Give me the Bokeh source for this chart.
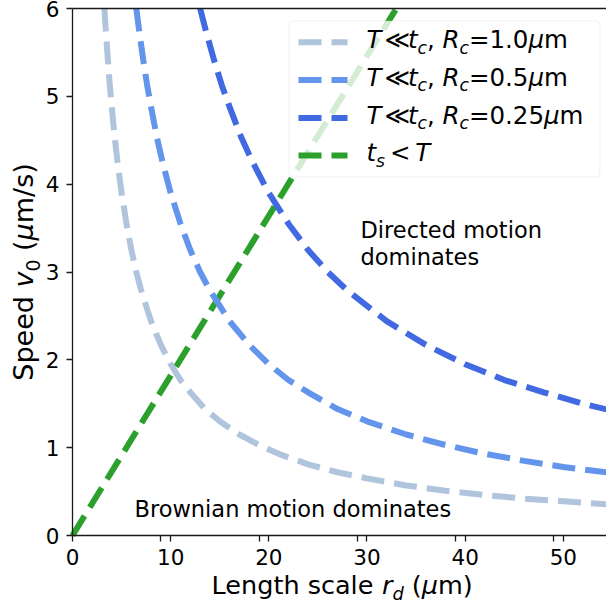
import math

from bokeh.embed import file_html
from bokeh.models import BoxAnnotation, FixedTicker, Label, LinearAxis, Range1d
from bokeh.plotting import figure
from bokeh.resources import INLINE

# ---- data -----------------------------------------------------------------
# crossover speed (um/s) against length scale (um), one curve per cell radius
r_rc10 = [3.25, 3.4, 3.6, 3.8, 4.0, 4.3, 4.6, 5.0, 5.5, 6.0, 6.5, 7, 8, 9, 10, 11, 12,
          13.5, 15, 17, 19, 21, 24, 27, 30, 34, 38, 42, 46, 50, 55]
v_rc10 = [6.00, 5.74, 5.42, 5.13, 4.88, 4.53, 4.24, 3.90, 3.55, 3.25, 3.00, 2.79, 2.44,
          2.17, 1.95, 1.77, 1.63, 1.44, 1.30, 1.15, 1.03, 0.93, 0.81, 0.72, 0.65, 0.57,
          0.51, 0.46, 0.42, 0.39, 0.35]

r_rc05 = [6.5, 6.8, 7.2, 7.6, 8, 8.6, 9.2, 10, 11, 12, 13, 14, 16, 18, 20, 22, 24, 27,
          30, 34, 38, 42, 46, 50, 55]
v_rc05 = [6.00, 5.74, 5.42, 5.13, 4.88, 4.53, 4.24, 3.90, 3.55, 3.25, 3.00, 2.79, 2.44,
          2.17, 1.95, 1.77, 1.63, 1.44, 1.30, 1.15, 1.03, 0.93, 0.85, 0.78, 0.71]

r_rc025 = [13.0, 13.6, 14.4, 15.2, 16, 17.2, 18.4, 20, 22, 24, 26, 28, 32, 36, 40, 44,
           48, 52, 55]
v_rc025 = [6.00, 5.74, 5.42, 5.13, 4.88, 4.53, 4.24, 3.90, 3.55, 3.25, 3.00, 2.79, 2.44,
           2.17, 1.95, 1.77, 1.63, 1.50, 1.42]

r_ts = [0, 10, 20, 30, 33.0]
v_ts = [0, 1.82, 3.64, 5.46, 6.00]

x_ticks = [0, 10, 20, 30, 40, 50]
x_minor_ticks = [9, 19, 29, 39, 49]
y_ticks = [0, 1, 2, 3, 4, 5, 6]

C_RC10 = "#b0c4de"   # lightsteelblue
C_RC05 = "#6495ed"   # cornflowerblue
C_RC025 = "#4169e1"  # royalblue
C_TS = "#2ca02c"

FONT = "DejaVu Sans"
INK = "#000000"
SPINE = "#1a1a1a"

# ---- geometry --------------------------------------------------------------
# The data box sits at canvas pixels x 72..606, y 8..535; the plot frame covers
# the whole canvas and the axes are pinned to x=0 / y=0 so that the axis titles
# can be set as mixed italic / subscript text inside the frame.
W, H = 606, 607
BOX_L, BOX_T, BOX_B = 72, 8, 535
X_MAX, Y_MAX = 54.4, 6.0
UX = X_MAX / (W - BOX_L)          # data units per pixel, x
UY = Y_MAX / (BOX_B - BOX_T)      # data units per pixel, y
X0, X1 = -BOX_L * UX, X_MAX
Y0, Y1 = -(H - BOX_B) * UY, Y_MAX + BOX_T * UY


def dx(px):
    return (px - BOX_L) * UX


def dy(py):
    return (BOX_B - py) * UY


p = figure(width=W, height=H, output_backend="svg", toolbar_location=None,
           x_range=Range1d(X0, X1), y_range=Range1d(Y0, Y1),
           min_border=0, min_border_left=0, min_border_right=0,
           min_border_top=0, min_border_bottom=0)
p.outline_line_color = None
p.grid.visible = False
p.background_fill_color = "white"
p.border_fill_color = "white"

for ax in (p.xaxis[0], p.yaxis[0]):
    ax.fixed_location = 0
    ax.axis_line_color = SPINE
    ax.axis_line_width = 1.3
    ax.major_tick_line_color = SPINE
    ax.minor_tick_line_color = SPINE
    ax.major_tick_line_width = 1.3
    ax.minor_tick_line_width = 1.3
    ax.major_tick_in = 0
    ax.major_tick_out = 6
    ax.minor_tick_in = 0
    ax.major_label_text_font = FONT
    ax.major_label_text_font_size = "21.5px"
    ax.major_label_text_color = INK

p.xaxis.bounds = (0, X1)
p.xaxis.ticker = FixedTicker(ticks=x_ticks, minor_ticks=x_minor_ticks)
p.xaxis.minor_tick_out = 6
p.xaxis.major_label_standoff = 7
p.yaxis.bounds = (0, Y_MAX)
p.yaxis.ticker = FixedTicker(ticks=y_ticks)
p.yaxis.minor_tick_out = 0
p.yaxis.major_label_standoff = 7

# top spine
top = LinearAxis(fixed_location=Y_MAX, bounds=(0, X1), ticker=FixedTicker(ticks=[]),
                 axis_line_color=SPINE, axis_line_width=1.3,
                 major_tick_line_color=None, minor_tick_line_color=None,
                 major_label_text_font_size="0px")
p.add_layout(top, "above")

DASH = "23 10"
LW = 6
p.line(r_ts, v_ts, line_color=C_TS, line_width=LW, line_dash=DASH)
p.line(r_rc10, v_rc10, line_color=C_RC10, line_width=LW, line_dash=DASH)
p.line(r_rc05, v_rc05, line_color=C_RC05, line_width=LW, line_dash=DASH)
p.line(r_rc025, v_rc025, line_color=C_RC025, line_width=LW, line_dash=DASH)

# ---- mixed-style text (italic symbols, subscripts) -------------------------
ADV = {' ': 0.318, ',': 0.318, '.': 0.318, '(': 0.390, ')': 0.390, '/': 0.337,
       '<': 0.838, '=': 0.838, '\u226a': 0.838, 'T': 0.611, 'R': 0.695, 'S': 0.635,
       'L': 0.557, 'B': 0.686, 'D': 0.770, 't': 0.392, 'c': 0.550, 'm': 0.974,
       's': 0.521, 'v': 0.592, 'd': 0.635, 'p': 0.635, 'e': 0.615, 'n': 0.634,
       'g': 0.635, 'h': 0.634, 'a': 0.613, 'l': 0.278, 'r': 0.411, 'i': 0.278,
       'o': 0.612, 'w': 0.818, '\u03bc': 0.636}
for d in "0123456789":
    ADV[d] = 0.636
SP = ADV[' ']
SUB_SCALE = 0.7
SUB_DROP = 0.22
REL_GAP = 0.12
BASE_FIX = 0.38   # lifts Bokeh's alphabetic anchor onto the glyph baseline


def run_len(runs, size):
    total = 0.0
    for text, _style, sub, gap in runs:
        fs = size * (SUB_SCALE if sub else 1.0)
        total += gap * size + sum(ADV.get(ch, 0.6) for ch in text) * fs
    return total


def rich_text(runs, px, py, size, rotated=False, center=False):
    """Lay out runs of (text, font_style, is_subscript, gap_before_em) on one baseline.

    (px, py) is the canvas pixel of the baseline start (or centre)."""
    pos = -run_len(runs, size) / 2 if center else 0.0
    for text, style, sub, gap in runs:
        pos += gap * size
        fs = size * (SUB_SCALE if sub else 1.0)
        drop = SUB_DROP * size if sub else 0.0
        lift = BASE_FIX * fs
        if rotated:
            xo, yo, angle = px + drop - lift, py - pos, math.pi / 2
        else:
            xo, yo, angle = px + pos, py + drop - lift, 0.0
        p.add_layout(Label(x=dx(xo), y=dy(yo), text=text, angle=angle,
                           text_font=FONT, text_font_style=style,
                           text_font_size=f"{fs:.2f}px", text_color=INK,
                           text_align="left", text_baseline="alphabetic"))
        pos += sum(ADV.get(ch, 0.6) for ch in text) * fs


# axis titles
rich_text([("Length scale", "normal", False, 0), ("r", "italic", False, SP),
           ("d", "italic", True, 0), ("(", "normal", False, SP),
           ("\u03bc", "italic", False, 0), ("m)", "normal", False, 0)],
          341.7, 594, 25.5, center=True)
rich_text([("Speed", "normal", False, 0), ("v", "italic", False, SP),
           ("0", "normal", True, 0), ("(", "normal", False, SP),
           ("\u03bc", "italic", False, 0), ("m/s)", "normal", False, 0)],
          33.5, 271.5, 27, rotated=True, center=True)

# region annotations
ANN = 22.5
rich_text([("Directed motion", "normal", False, 0)], 360, 238, ANN)
rich_text([("dominates", "normal", False, 0)], 360, 265, ANN)
rich_text([("Brownian motion dominates", "normal", False, 0)], 134, 517, ANN)

# ---- legend -----------------------------------------------------------------
p.add_layout(BoxAnnotation(left=dx(288.5), right=dx(599.5), top=dy(20.5), bottom=dy(176.5),
                           fill_color="white", fill_alpha=0.8, line_color="#cccccc",
                           line_width=1, border_radius=4))

LEG = 24.5
leg_rows = [
    (C_RC10, "1.0"),
    (C_RC05, "0.5"),
    (C_RC025, "0.25"),
]
row_base = [48.3, 86, 124, 161.7]
for i, (col, rc) in enumerate(leg_rows):
    yb = row_base[i]
    p.line([dx(298), dx(347)], [dy(yb - 6.6)] * 2, line_color=col, line_width=LW,
           line_dash=DASH, level="overlay")
    rich_text([("T", "italic", False, 0), ("\u226a", "normal", False, REL_GAP),
               ("t", "italic", False, REL_GAP), ("c", "italic", True, 0),
               (",", "normal", False, 0), ("R", "italic", False, SP),
               ("c", "italic", True, 0), ("=" + rc, "normal", False, 0),
               ("\u03bc", "italic", False, 0), ("m", "normal", False, 0)],
              366, yb, LEG)

yb = row_base[3]
p.line([dx(298), dx(347)], [dy(yb - 6.6)] * 2, line_color=C_TS, line_width=LW,
       line_dash=DASH, level="overlay")
rich_text([("t", "italic", False, 0), ("s", "italic", True, 0),
           ("<", "normal", False, REL_GAP + 0.08), ("T", "italic", False, REL_GAP + 0.08)],
          366, yb, LEG)

open("out.html", "w").write(file_html(p, INLINE))
